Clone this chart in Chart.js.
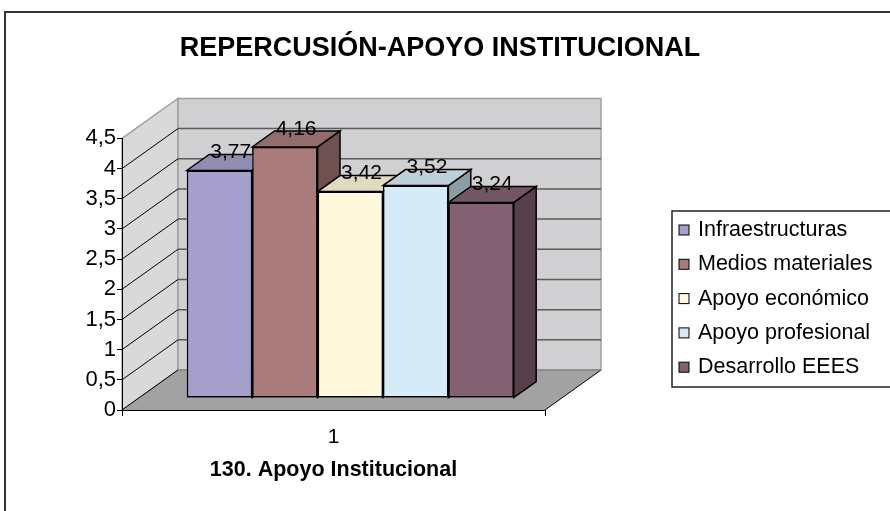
<!DOCTYPE html>
<html>
<head>
<meta charset="utf-8">
<script src="https://cdn.jsdelivr.net/npm/chart.js@4.4.1/dist/chart.umd.min.js"></script>
<style>
  html, body { margin: 0; padding: 0; background: #fff; }
  canvas { display: block; }
</style>
</head>
<body>
<canvas id="chart" width="890" height="511"></canvas>
<script>
const categories = ["1"];
const seriesNames = ["Infraestructuras", "Medios materiales", "Apoyo económico", "Apoyo profesional", "Desarrollo EEES"];
const seriesValues = [[3.77], [4.16], [3.42], [3.52], [3.24]];
const seriesColors = ["#A69FCB", "#A97B7C", "#FFF8DC", "#D6EBF8", "#846172"];
const yMin = 0;
const yMax = 4.5;
const yStep = 0.5;

const FONT = "'Liberation Sans', Arial, sans-serif";
const DEPTH_X = 56;
const DEPTH_Y = 40;
const BAR_FRONT = 0.3;
const BAR_DEPTH = 0.4;

function shade(hex, f) {
  const n = parseInt(hex.slice(1), 16);
  const r = Math.round(((n >> 16) & 255) * f);
  const g = Math.round(((n >> 8) & 255) * f);
  const b = Math.round((n & 255) * f);
  return `rgb(${r}, ${g}, ${b})`;
}

function comma(v) {
  return String(v).replace(".", ",");
}

function poly(ctx, pts, fill, stroke, lw) {
  ctx.beginPath();
  ctx.moveTo(pts[0][0], pts[0][1]);
  for (let i = 1; i < pts.length; i++) ctx.lineTo(pts[i][0], pts[i][1]);
  ctx.closePath();
  if (fill) { ctx.fillStyle = fill; ctx.fill(); }
  if (stroke) { ctx.strokeStyle = stroke; ctx.lineWidth = lw || 1; ctx.stroke(); }
}

// walls, floor and grid behind everything, then the bars get a depth
const box3d = {
  id: "box3d",
  beforeDraw(chart) {
    const { ctx, chartArea: a, scales: { y } } = chart;
    const L = a.left, R = a.right, T = a.top, B = a.bottom;
    ctx.save();
    // outer frame
    ctx.strokeStyle = "#333";
    ctx.lineWidth = 2;
    ctx.beginPath();
    ctx.moveTo(5, 511);
    ctx.lineTo(5, 12);
    ctx.lineTo(890, 12);
    ctx.stroke();

    poly(ctx, [[L, T], [L + DEPTH_X, T - DEPTH_Y], [L + DEPTH_X, B - DEPTH_Y], [L, B]], "#D9D9D9", "#A0A0A0", 1.5);
    poly(ctx, [[L + DEPTH_X, T - DEPTH_Y], [R + DEPTH_X, T - DEPTH_Y], [R + DEPTH_X, B - DEPTH_Y], [L + DEPTH_X, B - DEPTH_Y]], "#D0D0D2", "#A0A0A0", 1.5);
    poly(ctx, [[L, B], [R, B], [R + DEPTH_X, B - DEPTH_Y], [L + DEPTH_X, B - DEPTH_Y]], "#A2A2A2", null);

    for (let v = yMin + yStep; v < yMax - 1e-9; v += yStep) {
      const py = y.getPixelForValue(v);
      ctx.strokeStyle = "#000";
      ctx.lineWidth = 1;
      ctx.beginPath();
      ctx.moveTo(L, py);
      ctx.lineTo(L + DEPTH_X, py - DEPTH_Y);
      ctx.stroke();
      ctx.strokeStyle = "#5a5a5a";
      ctx.lineWidth = 1.5;
      ctx.beginPath();
      ctx.moveTo(L + DEPTH_X, py - DEPTH_Y);
      ctx.lineTo(R + DEPTH_X, py - DEPTH_Y);
      ctx.stroke();
    }
    // floor edges
    ctx.strokeStyle = "#000";
    ctx.lineWidth = 1;
    ctx.beginPath();
    ctx.moveTo(L, B);
    ctx.lineTo(L + DEPTH_X, B - DEPTH_Y);
    ctx.moveTo(R, B);
    ctx.lineTo(R + DEPTH_X, B - DEPTH_Y);
    ctx.stroke();
    ctx.strokeStyle = "#777";
    ctx.beginPath();
    ctx.moveTo(L + DEPTH_X, B - DEPTH_Y);
    ctx.lineTo(R + DEPTH_X, B - DEPTH_Y);
    ctx.stroke();
    ctx.restore();
  },
  beforeDatasetsDraw(chart) {
    chart.ctx.save();
    chart.ctx.translate(DEPTH_X * BAR_FRONT, -DEPTH_Y * BAR_FRONT);
  },
  afterDatasetsDraw(chart) {
    const ctx = chart.ctx;
    const bx = DEPTH_X * BAR_DEPTH, by = DEPTH_Y * BAR_DEPTH;
    // redraw left to right so each bar covers the side of the one before
    chart.data.datasets.forEach((ds, i) => {
      const color = seriesColors[i];
      chart.getDatasetMeta(i).data.forEach((el) => {
        const { x, y, base, width } = el.getProps(["x", "y", "base", "width"], true);
        const l = x - width / 2, r = x + width / 2;
        poly(ctx, [[r, y], [r + bx, y - by], [r + bx, base - by], [r, base]], shade(color, 0.66), "#000", 1.5);
        poly(ctx, [[l, y], [r, y], [r + bx, y - by], [l + bx, y - by]], shade(color, 0.88), "#000", 1.5);
        el.draw(ctx);
      });
    });
    ctx.font = `21px ${FONT}`;
    ctx.fillStyle = "#000";
    ctx.textAlign = "center";
    ctx.textBaseline = "middle";
    chart.data.datasets.forEach((ds, i) => {
      chart.getDatasetMeta(i).data.forEach((el, j) => {
        const { x, y } = el.getProps(["x", "y"], true);
        ctx.fillText(comma(ds.data[j].toFixed(2)), x + bx / 2, y - by / 2 - 10);
      });
    });
    ctx.restore();
  },
  afterDraw(chart) {
    const ctx = chart.ctx;
    const left = 672, top = 211, rowH = 34.3;
    ctx.save();
    ctx.strokeStyle = "#222";
    ctx.lineWidth = 1.5;
    ctx.strokeRect(left, top, 240, 176);
    ctx.font = `21.5px ${FONT}`;
    ctx.textAlign = "left";
    ctx.textBaseline = "middle";
    chart.data.datasets.forEach((ds, i) => {
      const cy = top + 19 + i * rowH;
      ctx.fillStyle = ds.backgroundColor;
      ctx.fillRect(679, cy - 5, 10, 10);
      ctx.strokeStyle = "#000";
      ctx.lineWidth = 1;
      ctx.strokeRect(679, cy - 5, 10, 10);
      ctx.fillStyle = "#000";
      ctx.fillText(ds.label, 698, cy);
    });
    ctx.restore();
  }
};

const datasets = seriesNames.map((name, i) => ({
  label: name,
  data: seriesValues[i],
  backgroundColor: seriesColors[i],
  borderColor: "#000",
  borderWidth: 1.5,
  borderSkipped: false,
  categoryPercentage: 0.773,
  barPercentage: 1,
  clip: false
}));

new Chart(document.getElementById("chart"), {
  type: "bar",
  data: { labels: categories, datasets },
  plugins: [box3d],
  options: {
    responsive: false,
    animation: false,
    layout: { padding: { left: 0, right: 10, top: 0, bottom: 0 } },
    plugins: {
      legend: { display: false },
      tooltip: { enabled: false },
      title: {
        display: true,
        text: "REPERCUSIÓN-APOYO INSTITUCIONAL",
        color: "#000",
        font: { family: FONT, size: 27, weight: "bold" },
        padding: { top: 32, bottom: 74 }
      }
    },
    scales: {
      x: {
        grid: { display: true, drawOnChartArea: false, drawTicks: true, tickLength: 6, color: "#000" },
        border: { display: true, color: "#000", width: 1 },
        ticks: { color: "#000", font: { family: FONT, size: 21 }, padding: 9 },
        title: {
          display: true,
          text: "130. Apoyo Institucional",
          color: "#000",
          font: { family: FONT, size: 21.5, weight: "bold" },
          padding: { top: 0, bottom: 28 }
        },
        afterFit(scale) { scale.height = 101; }
      },
      y: {
        min: yMin,
        max: yMax,
        grid: { display: true, drawOnChartArea: false, drawTicks: true, tickLength: 5, color: "#000" },
        border: { display: true, color: "#000", width: 1 },
        ticks: {
          stepSize: yStep,
          autoSkip: false,
          color: "#000",
          font: { family: FONT, size: 22 },
          padding: 1,
          callback: (v) => comma(v)
        },
        afterFit(scale) { scale.width = 122; }
      },
      yR: {
        position: "right",
        grid: { display: false },
        border: { display: false },
        ticks: { display: false },
        afterFit(scale) { scale.width = 335; }
      }
    }
  }
});
</script>
</body>
</html>
